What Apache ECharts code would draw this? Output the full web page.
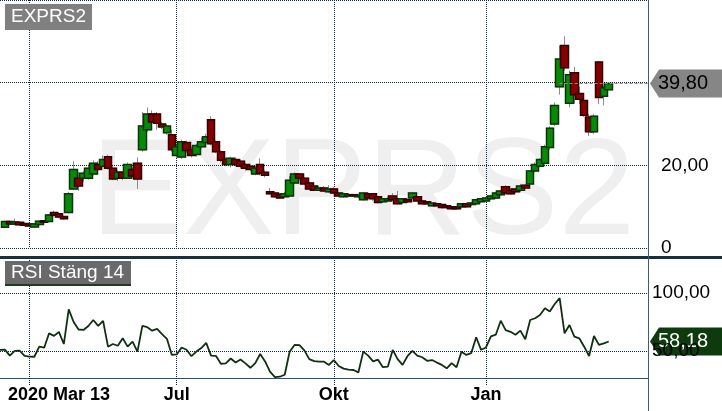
<!DOCTYPE html>
<html><head><meta charset="utf-8">
<script src="https://cdn.jsdelivr.net/npm/echarts@6/dist/echarts.min.js"></script>
<style>html,body{margin:0;padding:0;background:#fff}#c{width:722px;height:411px}</style>
</head><body><div id="c"></div>
<script>
// ---- data ----
const N_CAT = 133;
const tickIdx = [6, 36, 68, 99];
const tickLabels = ['2020 Mar 13', 'Jul', 'Okt', 'Jan'];
const ticker = 'EXPRS2';
const rsiTitle = 'RSI Stäng 14';
const lastPrice = 39.80;
const lastRsi = 58.18;
const pricePanelTicks = [0, 20, 40];
const rsiLevels = [100, 50];

// candles (category index 1..124)
const opens = [5.0,6.4,5.8,6.2,5.9,5.8,5.1,5.7,6.6,6.4,8.6,8.3,7.6,8.6,14.3,16.9,16.9,16.9,17.9,20.2,19.8,22.1,19.3,16.9,18.3,16.9,19.0,20.5,23.8,28.6,32.4,32.4,30.0,27.9,27.4,22.4,22.0,25.5,23.8,22.6,24.5,25.5,31.0,25.7,23.3,21.4,20.2,21.4,21.0,20.2,19.8,17.9,20.2,18.3,13.6,13.3,12.9,12.4,12.6,15.7,17.9,16.9,15.7,15.0,14.0,14.5,13.6,14.3,13.3,12.4,12.6,12.9,12.4,11.7,13.1,13.1,12.4,11.2,11.4,12.6,11.9,11.0,11.7,12.1,12.4,11.4,11.2,10.2,10.7,10.5,10.2,10.0,9.9,10.0,10.7,10.5,10.7,11.2,11.4,11.9,12.1,12.9,14.8,14.0,14.3,14.0,15.2,15.5,18.6,19.8,20.5,24.3,30.0,39.0,49.0,35.0,42.4,37.4,35.7,31.7,28.1,45.0,36.7,38.3];
const closes = [6.4,5.8,6.3,5.6,5.5,5.3,5.8,6.5,6.2,8.0,7.9,7.5,7.1,13.1,19.0,15.0,18.1,19.3,20.5,19.0,21.4,19.3,16.7,18.3,16.9,20.2,17.4,16.7,29.5,32.4,30.5,30.2,29.3,29.5,23.8,24.5,25.7,23.6,22.4,24.8,25.7,26.9,25.2,23.3,21.2,20.2,21.7,20.2,19.8,19.3,19.0,19.3,18.1,17.6,13.1,12.4,12.1,13.1,16.4,17.9,16.9,15.5,14.3,14.0,14.5,13.8,14.3,13.3,12.6,13.1,12.9,12.6,12.6,13.3,12.1,11.9,11.0,11.9,11.9,11.7,10.7,11.9,11.2,13.3,11.4,10.7,10.7,10.9,10.2,9.8,9.8,9.5,9.5,10.7,10.0,10.9,11.7,11.9,12.1,12.6,13.3,13.8,13.3,13.1,13.6,15.0,14.5,18.6,20.2,21.4,24.5,29.0,34.5,45.7,43.6,41.9,37.1,36.0,32.1,28.1,31.9,36.4,38.8,39.8];
const highs = [6.6,6.7,7.1,6.4,6.2,6.0,6.0,6.7,6.8,8.2,9.0,8.7,7.8,13.6,21.0,18.3,18.6,19.8,21.2,21.0,22.4,22.6,19.8,18.8,18.6,20.7,19.5,21.9,32.9,34.0,33.3,32.9,30.5,30.0,28.6,25.0,26.2,26.0,24.5,25.2,26.7,27.6,31.9,26.0,23.6,21.9,22.1,21.9,21.4,20.5,20.2,19.8,21.7,18.8,14.5,13.8,13.3,13.6,17.4,18.3,18.1,17.1,16.0,15.5,15.0,15.0,15.2,14.8,13.6,13.3,13.3,13.1,13.1,13.6,13.3,13.3,12.6,12.1,12.4,13.3,13.8,12.1,11.9,13.6,12.6,11.7,11.4,11.2,10.9,10.7,10.5,10.2,10.2,10.9,10.9,11.2,11.9,12.1,12.4,12.9,13.6,14.0,15.2,14.5,14.5,15.5,15.5,18.8,20.7,21.7,25.0,29.5,35.2,49.0,51.2,42.9,43.8,39.0,36.2,32.4,32.4,45.2,39.3,40.2];
const lows = [4.9,5.6,5.7,5.4,5.3,5.0,4.8,5.5,6.0,6.2,7.6,7.2,6.8,8.3,14.0,13.8,16.0,16.5,17.6,18.6,19.5,19.0,16.4,16.2,16.4,16.7,17.0,14.3,23.3,28.1,29.0,28.6,28.8,27.4,23.3,21.9,21.5,23.0,21.9,22.1,24.0,25.0,24.8,22.9,20.7,19.8,19.5,19.8,19.3,18.8,18.6,17.6,17.6,17.1,12.9,12.1,11.9,12.1,12.4,15.5,16.4,15.2,14.0,13.8,13.8,13.6,13.3,13.1,12.4,12.1,12.4,12.4,12.1,11.4,11.7,11.4,10.7,10.9,11.2,11.4,10.5,10.7,10.9,11.9,11.2,10.5,10.5,10.0,10.0,9.5,9.5,9.3,9.2,9.8,9.8,10.2,10.5,10.9,11.2,11.7,11.9,12.6,13.1,12.9,13.3,13.6,14.3,15.2,18.3,19.5,20.2,23.8,29.5,37.1,42.9,34.0,35.0,34.8,31.7,27.1,27.6,34.8,34.5,38.1];

// RSI (category index 0..124)
const rsi = [50.9,51.2,46,50,50.2,45.7,45.1,45,53.7,52.8,65.2,63,66.4,56,85.9,75,68.5,68.1,71.5,76.7,71.6,76,53.7,56,54.5,61,53.7,58,49.4,71.6,70.5,67.5,69,64.5,60.5,46.6,47,53,51,45.5,49.5,52.5,57,46,45.7,39,39.3,43.5,40,42.7,39.3,35.5,39.5,47.4,41,32.2,27.5,27.8,29.5,49.4,55.2,55,50.5,43,41.3,40.8,40.8,38,42.2,37,34.8,34,33.6,31.5,49.4,46,41,42.5,36,36.5,50.9,43,38,45.5,50,46,44.6,41.5,42.2,40,38,35.1,39.5,36,49.4,46.6,48.2,61.8,51,53,62.5,64,76.1,68,66.5,64,67.5,60.1,76.7,78.2,81,86.8,84,90.5,95.5,65.2,72.4,62.3,60.9,53.7,45.7,62.9,55.2,56.6,58.18];

// ---- chart ----
const FONT = '"Liberation Sans", Arial, sans-serif';
const GRID_C = '#0c2640';
const fmt = v => v === 0 ? '0' : v.toFixed(2).replace('.', ',');
const cats = Array.from({length: N_CAT}, (_, k) => String(k));
const empty = ['-', '-', '-', '-'];
const full = [empty], bodies = [empty];
for (let k = 0; k < opens.length; k++) {
  full.push([opens[k], closes[k], lows[k], highs[k]]);
  bodies.push([opens[k], closes[k], Math.min(opens[k], closes[k]), Math.max(opens[k], closes[k])]);
}
const isTick = idx => tickIdx.indexOf(idx) >= 0;
const firstIdxAtPrice = 1 + closes.findIndex((c, k) => highs[k] >= lastPrice);

const chart = echarts.init(document.getElementById('c'));
chart.setOption({
  animation: false,
  grid: [
    {left: 0, width: 648, top: -4, height: 252},
    {left: 0, width: 648, top: 260, height: 118}
  ],
  xAxis: [
    {gridIndex: 0, type: 'category', data: cats, boundaryGap: false,
     axisLine: {show: false}, axisTick: {show: false}, axisLabel: {show: false},
     splitLine: {show: true, interval: (i) => isTick(i), lineStyle: {type: [1, 1], color: GRID_C}}},
    {gridIndex: 1, type: 'category', data: cats, boundaryGap: false,
     axisLine: {lineStyle: {color: '#2f4f70', width: 1}},
     axisTick: {show: true, interval: (i) => isTick(i) || i === N_CAT - 1, length: 8, lineStyle: {color: GRID_C, type: [1, 1]}},
     axisLabel: {interval: (i) => isTick(i), margin: 8, fontFamily: FONT, fontWeight: 'bold', fontSize: 18, color: '#000',
       formatter: (v, i) => { const k = tickIdx.indexOf(Number(v)); if (k < 0) return ''; return k === 0 ? '{first|' + tickLabels[k] + '}' : tickLabels[k]; },
       rich: {first: {padding: [0, 0, 0, 59], fontFamily: FONT, fontWeight: 'bold', fontSize: 18, color: '#000'}}},
     splitLine: {show: true, interval: (i) => isTick(i), lineStyle: {type: [1, 1], color: GRID_C}}}
  ],
  yAxis: [
    {gridIndex: 0, type: 'value', position: 'right', min: 0, max: 60, interval: 20,
     axisLine: {show: false}, axisTick: {show: false},
     axisLabel: {margin: 13, fontFamily: FONT, fontSize: 19, color: '#000',
       formatter: v => (pricePanelTicks.indexOf(v) >= 0 && Math.abs(v - lastPrice) > 5) ? fmt(v) : ''},
     splitLine: {show: true, lineStyle: {type: [1, 1], color: GRID_C}}},
    {gridIndex: 1, type: 'value', position: 'right', min: 26.7, max: 128.4,
     axisLine: {show: false}, axisTick: {show: false}, axisLabel: {show: false}, splitLine: {show: false}}
  ],
  series: [
    {type: 'candlestick', name: 'wicks', xAxisIndex: 0, yAxisIndex: 0, data: full, barWidth: 8,
     itemStyle: {color: '#8c8c8c', color0: '#8c8c8c', borderColor: '#8c8c8c', borderColor0: '#8c8c8c', borderWidth: 1}},
    {type: 'candlestick', name: 'bodies', xAxisIndex: 0, yAxisIndex: 0, data: bodies, barWidth: 8,
     itemStyle: {color: '#078a07', color0: '#850000', borderColor: '#0a340a', borderColor0: '#340000', borderWidth: 1.5},
     markLine: {silent: true, symbol: 'none', label: {show: false},
       lineStyle: {color: '#8a8a8a', type: [3, 2], width: 1},
       data: [[{coord: [String(firstIdxAtPrice), lastPrice]}, {coord: [String(N_CAT - 1), lastPrice]}]]}},
    {type: 'line', name: 'RSI', xAxisIndex: 1, yAxisIndex: 1, data: rsi, symbol: 'none',
     lineStyle: {color: '#0f300f', width: 1.8},
     markLine: {silent: true, symbol: 'none',
       lineStyle: {type: [1, 1], color: GRID_C, width: 1},
       label: {position: 'end', distance: 4, formatter: p => fmt(p.value), fontFamily: FONT, fontSize: 19, color: '#000'},
       data: rsiLevels.map(v => ({yAxis: v}))}}
  ]
});

const py = chart.convertToPixel({yAxisIndex: 0}, lastPrice);
const ry = chart.convertToPixel({yAxisIndex: 1}, lastRsi);
function tag(y, fill, txt, txtColor) {
  return {type: 'group', z: 100, children: [
    {type: 'polygon', shape: {points: [[650, y], [659, y - 14], [722, y - 14], [722, y + 14], [659, y + 14]]}, style: {fill: fill}},
    {type: 'text', x: 658, y: y, style: {text: txt, fill: txtColor, font: '20px ' + FONT, textVerticalAlign: 'middle', verticalAlign: 'middle'}}
  ]};
}
chart.setOption({
  graphic: [
    {type: 'text', z: -1, x: 363, y: 196, silent: true,
     style: {text: ticker, fill: '#efefef', font: '138px ' + FONT, textAlign: 'center', align: 'center', textVerticalAlign: 'middle', verticalAlign: 'middle'}},
    {type: 'rect', z: 100, shape: {x: 0, y: 256, width: 722, height: 3}, style: {fill: '#17303f'}},
    {type: 'line', z: 100, shape: {x1: 648.5, y1: 0, x2: 648.5, y2: 411}, style: {stroke: '#3d5c7a', lineWidth: 1}},
    {type: 'group', z: 100, children: [
      {type: 'rect', shape: {x: 5, y: 4, width: 87, height: 26}, style: {fill: '#808080'}},
      {type: 'text', x: 11, y: 17, style: {text: ticker, fill: '#fff', font: '19px ' + FONT, textVerticalAlign: 'middle', verticalAlign: 'middle'}}
    ]},
    {type: 'group', z: 100, children: [
      {type: 'rect', shape: {x: 5, y: 261, width: 126, height: 24}, style: {fill: '#6a6a6a'}},
      {type: 'rect', shape: {x: 5, y: 284, width: 126, height: 2}, style: {fill: '#1d3d1d'}},
      {type: 'text', x: 11, y: 273, style: {text: rsiTitle, fill: '#fff', font: '19px ' + FONT, textVerticalAlign: 'middle', verticalAlign: 'middle'}}
    ]},
    tag(py, '#868686', fmt(lastPrice), '#000'),
    tag(ry, '#0d3b0d', fmt(lastRsi), '#fff')
  ]
});
</script>
</body></html>
